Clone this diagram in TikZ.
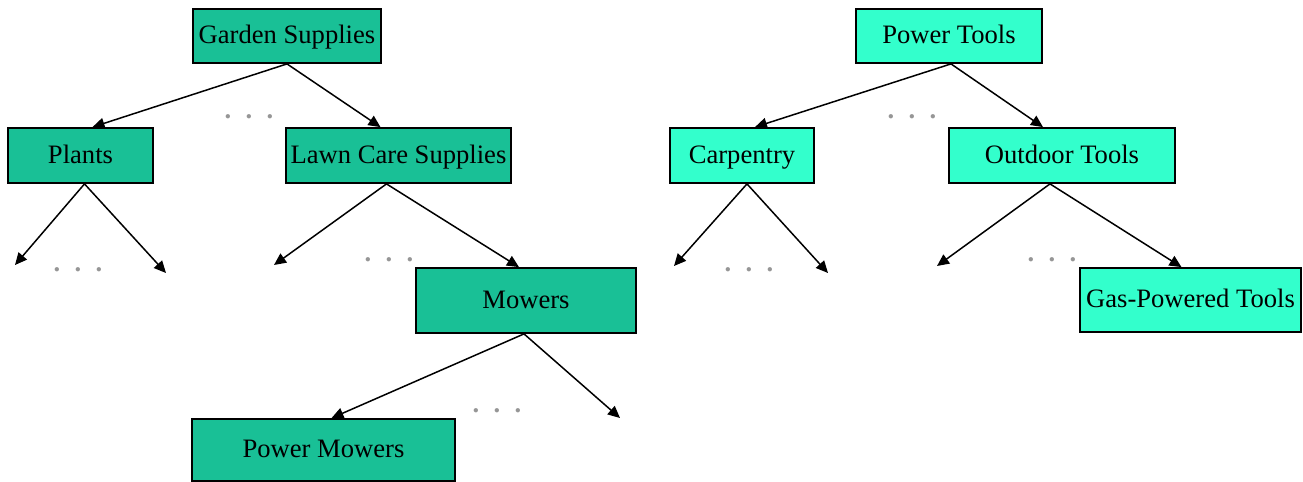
\documentclass[tikz,border=0pt]{standalone}
\usepackage{fontspec}
\setmainfont{Liberation Serif}
\usetikzlibrary{arrows.meta}
\definecolor{seagreen}{RGB}{25,192,150}
\definecolor{aquacyan}{RGB}{51,255,204}
\definecolor{dotgray}{RGB}{150,150,150}
\tikzset{
  box/.style={draw=black, line width=0.9pt, inner sep=0pt, text height=9.5pt, text depth=2pt, font=\fontsize{13.3pt}{15pt}\selectfont},
  gbox/.style={box, fill=seagreen},
  cbox/.style={box, fill=aquacyan},
  link/.style={line width=0.75pt, -{Triangle[length=6pt,width=5.5pt]}},
  ellip/.style={text=dotgray, inner sep=0pt, font=\fontsize{13.3pt}{15pt}\selectfont\bfseries}
}
\newcommand{\ellipdots}{.\hspace{7.2pt}.\hspace{7.2pt}.}
\begin{document}
\begin{tikzpicture}[x=0.5pt,y=-0.5pt]
\useasboundingbox[fill=white] (0,0) rectangle (1303,482);
% left tree
\node[gbox, minimum width=94pt, minimum height=27pt] (gs) at (287,36) {Garden Supplies};
\node[gbox, minimum width=72.5pt, minimum height=27.5pt] (pl) at (80.5,155.5) {Plants};
\node[gbox, minimum width=112.5pt, minimum height=27.5pt] (lc) at (398.5,155.5) {Lawn Care Supplies};
\node[gbox, minimum width=110pt, minimum height=32.5pt] (mo) at (526,300.5) {Mowers};
\node[gbox, minimum width=131.5pt, minimum height=31pt] (pm) at (323.5,450) {Power Mowers};
% right tree
\node[cbox, minimum width=93pt, minimum height=27pt] (pt) at (949,36) {Power Tools};
\node[cbox, minimum width=72pt, minimum height=27.5pt] (ca) at (742,155.5) {Carpentry};
\node[cbox, minimum width=113pt, minimum height=27.5pt] (ot) at (1062,155.5) {Outdoor Tools};
\node[cbox, minimum width=110.5pt, minimum height=32pt] (gp) at (1190.5,300) {Gas-Powered Tools};
% free ends
\coordinate (pl1) at (15,265);
\coordinate (pl2) at (166,273);
\coordinate (lc1) at (274,265);
\coordinate (mo2) at (620,418);
\coordinate (ca1) at (674,266);
\coordinate (ca2) at (828,273);
\coordinate (ot1) at (937,266);
% connectors
\draw[link] (gs.south) -- ([xshift=6pt]pl.north);
\draw[link] (gs.south) -- ([xshift=-9pt]lc.north);
\draw[link] ([xshift=2pt]pl.south) -- (pl1);
\draw[link] ([xshift=2pt]pl.south) -- (pl2);
\draw[link] ([xshift=-6pt]lc.south) -- (lc1);
\draw[link] ([xshift=-6pt]lc.south) -- ([xshift=-3.5pt]mo.north);
\draw[link] ([xshift=-1pt]mo.south) -- ([xshift=4pt]pm.north);
\draw[link] ([xshift=-1pt]mo.south) -- (mo2);
\draw[link] ([xshift=1pt]pt.south) -- ([xshift=6.5pt]ca.north);
\draw[link] ([xshift=1pt]pt.south) -- ([xshift=-9.5pt]ot.north);
\draw[link] ([xshift=2.5pt]ca.south) -- (ca1);
\draw[link] ([xshift=2.5pt]ca.south) -- (ca2);
\draw[link] ([xshift=-6pt]ot.south) -- (ot1);
\draw[link] ([xshift=-6pt]ot.south) -- ([xshift=-4.5pt]gp.north);
% ellipses
\node[ellip, anchor=base] (d1) at (249,119) {\ellipdots};
\node[ellip, anchor=base] (d2) at (78,271) {\ellipdots};
\node[ellip, anchor=base] (d3) at (389,261) {\ellipdots};
\node[ellip, anchor=base] (d4) at (497,412) {\ellipdots};
\node[ellip, anchor=base] (d5) at (912,119) {\ellipdots};
\node[ellip, anchor=base] (d6) at (749,271) {\ellipdots};
\node[ellip, anchor=base] (d7) at (1052,261) {\ellipdots};
\end{tikzpicture}
\end{document}
